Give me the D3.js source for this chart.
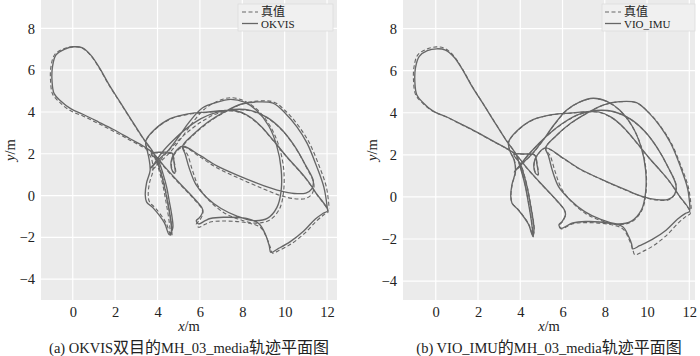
<!DOCTYPE html>
<html>
<head>
<meta charset="utf-8">
<script src="https://cdn.jsdelivr.net/npm/d3@7"></script>
<style>
  body { margin: 0; background: #fff; }
  svg text { font-family: "Liberation Serif", "Times New Roman", "Noto Sans CJK SC", serif; }
</style>
</head>
<body>
<svg id="chart" width="700" height="356"></svg>
<script>
// axis ticks
const xTicks = [0, 2, 4, 6, 8, 10, 12];
const yTicks = [-4, -2, 0, 2, 4, 6, 8];

// legend labels and captions
const legendA = ["真值", "OKVIS"];
const legendB = ["真值", "VIO_IMU"];
const captions = ["(a) OKVIS双目的MH_03_media轨迹平面图", "(b) VIO_IMU的MH_03_media轨迹平面图"];

const truthPath = [
  [4.62, -1.92], [4.58, -1.5], [4.5, -0.9], [4.38, -0.2], [4.25, 0.5], [4.1, 1.1], [3.95, 1.6], [3.8, 2.02],
  [3.3, 2.75], [2.7, 3.7], [2.2, 4.5], [1.7, 5.3], [1.25, 6.1], [0.85, 6.7], [0.45, 7.05], [0.03, 7.13],
  [-0.44, 7.02], [-0.85, 6.75], [-1.03, 6.17], [-1.05, 5.5], [-0.95, 4.85], [-0.63, 4.47], [-0.15, 4.08],
  [0.5, 3.8], [1.2, 3.45], [1.92, 3.08], [2.7, 2.65], [3.34, 2.3], [3.8, 2.0],
  [4.3, 1.38], [5.0, 0.6], [5.6, -0.04], [6.09, -0.63],
  [6.14, -0.86], [5.98, -1.2], [5.83, -1.36], [5.94, -1.52], [6.25, -1.38], [6.49, -1.27],
  [7.1, -1.22], [8.2, -1.3], [8.85, -1.52], [9.15, -2.02], [9.32, -2.47], [9.42, -2.75], [9.75, -2.62],
  [10.3, -2.32], [10.95, -1.8], [11.5, -1.22], [11.85, -0.92], [12.05, -0.78],
  [11.5, 0.08], [11.06, 0.73], [10.6, 1.28], [10.1, 1.84], [9.5, 2.58], [8.9, 3.28], [8.3, 3.78], [7.7, 4.03], [7.0, 4.03],
  [6.4, 3.98], [5.5, 3.9], [4.6, 3.66], [3.85, 3.13], [3.45, 2.6], [3.5, 2.2],
  [3.72, 1.75], [3.78, 1.2], [3.62, 0.6], [3.56, 0.05], [3.62, -0.3], [3.92, -0.62], [4.4, -1.3], [4.6, -1.85],
  [4.66, -1.55], [4.6, -1.0], [4.48, -0.3], [4.35, 0.4], [4.2, 1.0], [4.0, 1.6], [3.7, 2.0],
  [4.2, 2.03], [4.68, 1.98], [4.8, 1.55], [4.85, 1.05], [4.72, 1.15], [4.66, 1.6], [4.82, 2.0], [5.2, 2.32],
  [6.0, 1.85], [6.8, 1.33], [7.9, 0.8], [9.0, 0.32], [9.8, 0.0], [10.45, -0.15], [11.0, -0.14], [11.3, 0.1], [11.38, 0.55],
  [11.0, 1.4], [10.5, 2.3], [9.9, 3.1], [9.2, 3.7], [8.4, 4.05], [7.6, 4.1], [6.8, 3.92], [6.1, 3.55], [5.4, 3.02],
  [4.8, 2.45], [4.3, 1.9], [3.95, 1.45], [3.72, 1.18],
  [4.1, 1.58], [4.6, 2.08], [5.1, 2.72], [5.6, 3.42], [6.2, 4.12], [6.8, 4.5], [7.45, 4.68], [8.1, 4.53], [8.7, 4.12],
  [9.3, 3.35], [9.72, 2.4], [9.95, 1.3], [9.95, 0.2], [9.75, -0.65], [9.28, -1.18], [8.6, -1.32], [7.8, -1.12], [7.1, -0.8],
  [6.45, -0.25], [5.95, 0.4], [5.65, 1.2], [5.42, 1.95], [5.2, 2.32],
  [5.7, 2.9], [6.4, 3.5], [7.2, 4.0], [7.95, 4.37], [8.7, 4.52], [9.5, 4.47], [10.12, 3.97], [10.65, 3.34],
  [11.15, 2.55], [11.62, 1.44], [11.97, 0.4], [12.1, -0.62]
];

// OKVIS stereo estimate
const okvisPath = [
  [4.68, -1.9], [4.66, -1.5], [4.58, -0.9], [4.45, -0.2], [4.31, 0.5], [4.15, 1.1], [3.99, 1.6], [3.82, 2.03],
  [3.31, 2.76], [2.71, 3.71], [2.21, 4.51], [1.71, 5.31], [1.26, 6.11], [0.86, 6.71], [0.46, 7.07], [0.05, 7.12],
  [-0.4, 7.0], [-0.8, 6.72], [-0.96, 6.15], [-0.98, 5.5], [-0.88, 4.88], [-0.57, 4.53], [-0.1, 4.16],
  [0.5, 3.88], [1.2, 3.53], [1.92, 3.16], [2.7, 2.72], [3.34, 2.36], [3.8, 2.03],
  [4.3, 1.42], [5.0, 0.64], [5.6, 0.0], [6.09, -0.58],
  [6.14, -0.74], [5.98, -1.06], [5.83, -1.2], [5.94, -1.36], [6.25, -1.2], [6.49, -1.1],
  [7.1, -1.04], [8.2, -1.1], [8.8, -1.36], [9.1, -1.88], [9.27, -2.4], [9.35, -2.72], [9.68, -2.55],
  [10.25, -2.22], [10.9, -1.7], [11.45, -1.12], [11.82, -0.85], [12.03, -0.72],
  [11.48, 0.12], [11.04, 0.77], [10.58, 1.32], [10.08, 1.88], [9.48, 2.62], [8.88, 3.32], [8.28, 3.82], [7.68, 4.06], [7.0, 4.06],
  [6.4, 4.0], [5.5, 3.92], [4.6, 3.68], [3.85, 3.15], [3.45, 2.62], [3.5, 2.22],
  [3.6, 1.75], [3.65, 1.2], [3.48, 0.6], [3.42, 0.05], [3.48, -0.3], [3.8, -0.6], [4.32, -1.3], [4.56, -1.88],
  [4.72, -1.55], [4.68, -1.0], [4.56, -0.3], [4.43, 0.4], [4.27, 1.0], [4.06, 1.6], [3.72, 2.02],
  [4.2, 2.07], [4.68, 2.03], [4.78, 1.58], [4.82, 1.08], [4.7, 1.18], [4.64, 1.62], [4.8, 2.03], [5.18, 2.36],
  [6.0, 1.92], [6.8, 1.42], [7.9, 0.92], [9.0, 0.48], [9.8, 0.22], [10.45, 0.1], [11.0, 0.12], [11.28, 0.32], [11.35, 0.7],
  [10.97, 1.48], [10.47, 2.36], [9.87, 3.15], [9.17, 3.74], [8.37, 4.08], [7.58, 4.12], [6.78, 3.98], [6.05, 3.68], [5.33, 3.18],
  [4.72, 2.62], [4.2, 2.05], [3.88, 1.58], [3.65, 1.28],
  [4.04, 1.7], [4.54, 2.2], [5.03, 2.86], [5.52, 3.55], [6.13, 4.2], [6.75, 4.45], [7.45, 4.6], [8.1, 4.47], [8.67, 4.08],
  [9.25, 3.33], [9.62, 2.4], [9.83, 1.3], [9.83, 0.2], [9.63, -0.58], [9.2, -1.08], [8.55, -1.2], [7.75, -0.98], [7.0, -0.62],
  [6.3, -0.08], [5.8, 0.55], [5.5, 1.3], [5.3, 2.0], [5.18, 2.36],
  [5.68, 2.92], [6.38, 3.52], [7.18, 4.02], [7.93, 4.37], [8.68, 4.48], [9.45, 4.42], [10.05, 3.92], [10.57, 3.3],
  [11.05, 2.52], [11.5, 1.42], [11.85, 0.4], [12.02, -0.65]
];

// VIO_IMU estimate
const vioPath = [
  [4.6, -1.9], [4.57, -1.5], [4.49, -0.9], [4.37, -0.2], [4.24, 0.5], [4.09, 1.1], [3.94, 1.6], [3.8, 2.02],
  [3.3, 2.74], [2.7, 3.69], [2.2, 4.49], [1.7, 5.28], [1.26, 6.06], [0.87, 6.64], [0.46, 6.98], [0.05, 7.04],
  [-0.4, 6.95], [-0.78, 6.68], [-0.96, 6.13], [-0.99, 5.5], [-0.9, 4.86], [-0.6, 4.48], [-0.14, 4.09],
  [0.5, 3.81], [1.2, 3.46], [1.92, 3.09], [2.7, 2.66], [3.34, 2.31], [3.8, 2.01],
  [4.3, 1.39], [5.0, 0.61], [5.6, -0.03], [6.09, -0.62],
  [6.14, -0.84], [5.98, -1.17], [5.83, -1.33], [5.94, -1.49], [6.25, -1.35], [6.49, -1.24],
  [7.1, -1.17], [8.2, -1.24], [8.85, -1.42], [9.12, -1.86], [9.27, -2.24], [9.32, -2.47], [9.65, -2.32],
  [10.25, -2.02], [10.9, -1.58], [11.45, -1.05], [11.82, -0.78], [12.02, -0.68],
  [11.5, 0.09], [11.06, 0.74], [10.6, 1.29], [10.1, 1.85], [9.5, 2.59], [8.9, 3.29], [8.3, 3.79], [7.7, 4.04], [7.0, 4.04],
  [6.4, 3.99], [5.5, 3.91], [4.6, 3.67], [3.85, 3.14], [3.45, 2.61], [3.5, 2.21],
  [3.71, 1.75], [3.77, 1.2], [3.61, 0.6], [3.55, 0.05], [3.61, -0.3], [3.91, -0.62], [4.39, -1.3], [4.59, -1.85],
  [4.65, -1.55], [4.59, -1.0], [4.47, -0.3], [4.34, 0.4], [4.19, 1.0], [3.99, 1.6], [3.7, 2.01],
  [4.2, 2.04], [4.68, 1.99], [4.79, 1.55], [4.84, 1.05], [4.71, 1.15], [4.65, 1.6], [4.81, 2.0], [5.2, 2.33],
  [6.0, 1.86], [6.8, 1.34], [7.9, 0.81], [9.0, 0.33], [9.8, 0.01], [10.45, -0.13], [11.0, -0.12], [11.3, 0.11], [11.37, 0.55],
  [11.0, 1.41], [10.5, 2.31], [9.9, 3.11], [9.2, 3.71], [8.4, 4.06], [7.6, 4.11], [6.8, 3.93], [6.1, 3.56], [5.4, 3.03],
  [4.8, 2.46], [4.3, 1.91], [3.95, 1.46], [3.72, 1.19],
  [4.1, 1.59], [4.6, 2.09], [5.1, 2.73], [5.6, 3.43], [6.2, 4.13], [6.8, 4.51], [7.45, 4.69], [8.1, 4.54], [8.7, 4.13],
  [9.3, 3.36], [9.71, 2.4], [9.93, 1.3], [9.93, 0.2], [9.73, -0.63], [9.26, -1.15], [8.58, -1.28], [7.78, -1.06], [7.05, -0.7],
  [6.35, -0.13], [5.82, 0.48], [5.52, 1.25], [5.33, 1.97], [5.2, 2.33],
  [5.7, 2.91], [6.4, 3.51], [7.2, 4.01], [7.95, 4.38], [8.7, 4.53], [9.5, 4.48], [10.11, 3.97], [10.63, 3.34],
  [11.12, 2.55], [11.58, 1.44], [11.92, 0.4], [12.04, -0.6]
];

const panels = [
  { x0: 41, x1: 337, y0: 0, y1: 300, xDomain: [-1.5, 12.47], yDomain: [-5, 9.36],
    est: okvisPath, legend: legendA, caption: captions[0], legX: 238, legW: 95, legLine: 4 },
  { x0: 403, x1: 695, y0: 0, y1: 300, xDomain: [-1.55, 12.27], yDomain: [-4.9, 9.36],
    est: vioPath, legend: legendB, caption: captions[1], legX: 602, legW: 93, legLine: 3 }
];

const svg = d3.select("#chart");
const lineColor = "#666";
const cjk = /([\u4e00-\u9fff]+)/;

// mixed Latin / CJK text: the CJK runs are set a bit larger, as in the figure
function mixedText(sel, str, latinSize, cjkSize) {
  str.split(cjk).filter(s => s.length).forEach(part => {
    sel.append("tspan")
      .attr("font-size", cjk.test(part) ? cjkSize : latinSize)
      .text(part);
  });
}

panels.forEach((p, i) => {
  const x = d3.scaleLinear().domain(p.xDomain).range([p.x0, p.x1]);
  const y = d3.scaleLinear().domain(p.yDomain).range([p.y1, p.y0]);
  const g = svg.append("g");

  g.append("rect")
    .attr("x", p.x0).attr("y", p.y0)
    .attr("width", p.x1 - p.x0).attr("height", p.y1 - p.y0)
    .attr("fill", "#ebebeb");

  // grid
  g.selectAll(".gx").data(xTicks).join("line")
    .attr("x1", d => x(d)).attr("x2", d => x(d))
    .attr("y1", p.y0).attr("y2", p.y1)
    .attr("stroke", "#fff").attr("stroke-width", 1.2);
  g.selectAll(".gy").data(yTicks).join("line")
    .attr("x1", p.x0).attr("x2", p.x1)
    .attr("y1", d => y(d)).attr("y2", d => y(d))
    .attr("stroke", "#fff").attr("stroke-width", 1.2);

  // trajectories
  const clipId = "clip" + i;
  svg.append("clipPath").attr("id", clipId).append("rect")
    .attr("x", p.x0).attr("y", p.y0)
    .attr("width", p.x1 - p.x0).attr("height", p.y1 - p.y0);

  const line = d3.line()
    .x(d => x(d[0])).y(d => y(d[1]))
    .curve(d3.curveCatmullRom.alpha(0.5));

  const plot = g.append("g").attr("clip-path", `url(#${clipId})`);
  plot.append("path")
    .attr("d", line(truthPath))
    .attr("fill", "none").attr("stroke", lineColor)
    .attr("stroke-width", 1.1).attr("stroke-dasharray", "4,2.5");
  plot.append("path")
    .attr("d", line(p.est))
    .attr("fill", "none").attr("stroke", lineColor)
    .attr("stroke-width", 1.35);

  // axes
  g.append("g")
    .attr("transform", `translate(0,${p.y1})`)
    .call(d3.axisBottom(x).tickValues(xTicks).tickSize(0).tickPadding(7).tickFormat(d3.format("d")))
    .call(a => a.select(".domain").remove())
    .selectAll("text").attr("font-size", 14.5).attr("fill", "#222");
  g.append("g")
    .attr("transform", `translate(${p.x0},0)`)
    .call(d3.axisLeft(y).tickValues(yTicks).tickSize(0).tickPadding(6).tickFormat(d3.format("d")))
    .call(a => a.select(".domain").remove())
    .selectAll("text").attr("font-size", 14.5).attr("fill", "#222");

  // axis titles
  const xt = g.append("text")
    .attr("x", (p.x0 + p.x1) / 2).attr("y", 331)
    .attr("text-anchor", "middle").attr("font-size", 14.5).attr("fill", "#222");
  xt.append("tspan").attr("font-style", "italic").text("x");
  xt.append("tspan").text("/m");

  const yt = g.append("text")
    .attr("transform", `translate(${p.x0 - 26},${(p.y0 + p.y1) / 2}) rotate(-90)`)
    .attr("text-anchor", "middle").attr("font-size", 14.5).attr("fill", "#222");
  yt.append("tspan").attr("font-style", "italic").text("y");
  yt.append("tspan").text("/m");

  // caption
  const cap = g.append("text")
    .attr("x", (p.x0 + p.x1) / 2).attr("y", 353)
    .attr("text-anchor", "middle").attr("fill", "#222");
  mixedText(cap, p.caption, 14.5, 16);

  // legend
  const lg = g.append("g").attr("transform", `translate(${p.legX},4)`);
  lg.append("rect")
    .attr("width", p.legW).attr("height", 27)
    .attr("fill", "#f0f0f0").attr("stroke", "#dcdcdc").attr("stroke-width", 0.8);
  p.legend.forEach((name, k) => {
    const cy = 8 + k * 11.5;
    lg.append("line")
      .attr("x1", p.legLine).attr("x2", p.legLine + 16)
      .attr("y1", cy).attr("y2", cy)
      .attr("stroke", lineColor)
      .attr("stroke-width", k === 0 ? 1.1 : 1.3)
      .attr("stroke-dasharray", k === 0 ? "4,2.5" : null);
    const t = lg.append("text")
      .attr("x", p.legLine + 19).attr("y", cy + 4)
      .attr("fill", "#222");
    mixedText(t, name, 11, 12);
  });
});
</script>
</body>
</html>
